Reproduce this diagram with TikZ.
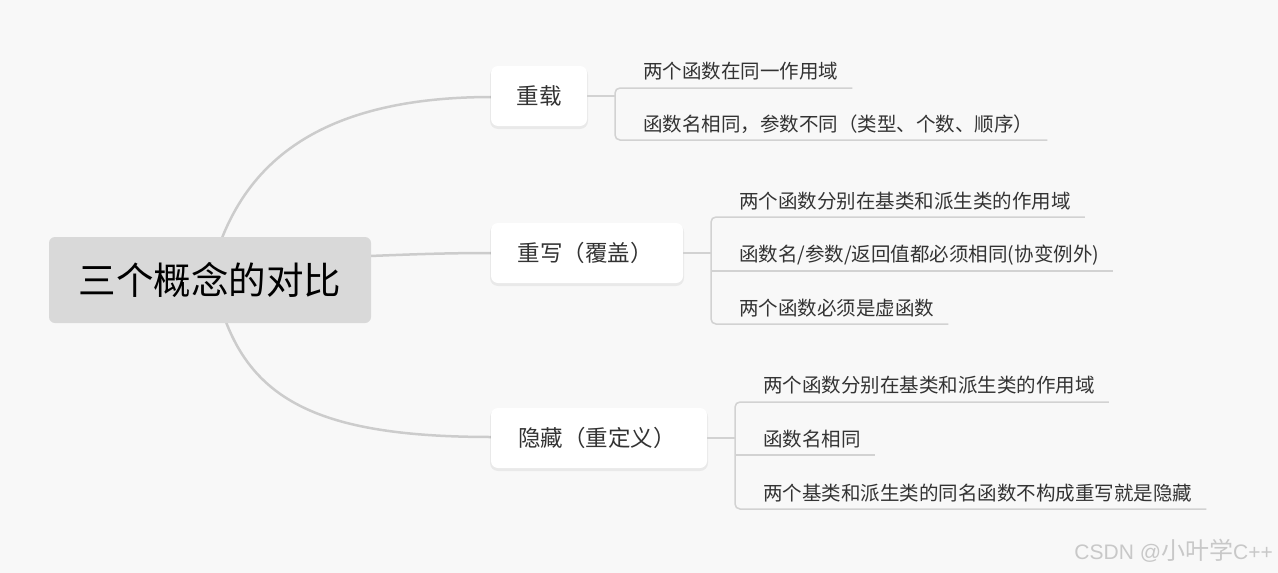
\documentclass[tikz,border=0pt]{standalone}
\usepackage{fontspec}
\setmainfont{Noto Sans CJK SC}
\newfontfamily\wmlatin{Liberation Sans}
\usetikzlibrary{calc}
\definecolor{bg}{HTML}{F8F8F8}
\definecolor{rootfill}{HTML}{D9D9D9}
\definecolor{curve}{HTML}{CCCCCC}
\definecolor{bline}{HTML}{D2D2D2}
\definecolor{txt}{HTML}{333333}
\definecolor{wm}{HTML}{C8C8C8}
\tikzset{
  rootbox/.style={fill=rootfill, rounded corners=6pt, minimum width=322pt, minimum height=86pt, inner sep=0pt, font=\fontsize{37.5}{40}\selectfont, text=black},
  branchbox/.style={fill=white, rounded corners=7pt, minimum height=60pt, inner sep=0pt, font=\fontsize{22.5}{26}\selectfont, text=txt},
  shadowbox/.style={fill=black, opacity=0.06, rounded corners=8pt, minimum height=62pt, inner sep=0pt},
  leaftext/.style={anchor=west, inner sep=0pt, font=\fontsize{19.5}{22}\selectfont, text=txt},
  curveline/.style={draw=curve, line width=2.5pt},
  leafline/.style={draw=bline, line width=1.5pt},
}
\begin{document}
\begin{tikzpicture}[x=1pt,y=-1pt]
\fill[bg] (0,0) rectangle (1278,573);
\useasboundingbox (0,0) rectangle (1278,573);

% curves (behind nodes)
\coordinate (rt) at (222,238);
\coordinate (rm) at (370,256);
\coordinate (rb) at (226,322);
\coordinate (c1in) at (492,97);
\coordinate (c2in) at (492,253);
\coordinate (c3in) at (492,437);
\draw[curveline] (rt) .. controls (255,155) and (330,97) .. (c1in);
\draw[curveline] (rm) .. controls (420,254) and (450,253) .. (c2in);
\draw[curveline] (rb) .. controls (258,405) and (330,437) .. (c3in);

% root
\node[rootbox] (root) at (210,280) {三个概念的对比};

% branch shadows
\node[shadowbox, minimum width=98pt] at (539,98) {};
\node[shadowbox, minimum width=194pt] at (587,255) {};
\node[shadowbox, minimum width=218pt] at (599,440) {};

% branches
\node[branchbox, minimum width=96pt] (c1) at (539,96) {重载};
\node[branchbox, minimum width=192pt] (c2) at (587,253) {\hspace*{-4pt}重写（覆盖）};
\node[branchbox, minimum width=216pt] (c3) at (599,438) {\hspace*{-4pt}隐藏（重定义）};

% leaves group 1
\node[leaftext] (l11) at (643,71) {两个函数在同一作用域};
\node[leaftext] (l12) at (643,124) {函数名相同，参数不同（类型、个数、顺序）};
\coordinate (b1t) at (615,88);
\coordinate (b1b) at (615,140);
\draw[leafline] (c1.east) -- (c1.east -| b1t);
\draw[leafline, rounded corners=5pt] ([xshift=14pt]l11.east |- b1t) -- (b1t) -- (b1b) -- ([xshift=14pt]l12.east |- b1b);

% leaves group 2
\node[leaftext] (l21) at (739,201) {两个函数分别在基类和派生类的作用域};
\node[leaftext] (l22) at (739,255) {函数名/参数/返回值都必须相同(协变例外)};
\node[leaftext] (l23) at (739,308) {两个函数必须是虚函数};
\coordinate (b2t) at (711,217);
\coordinate (b2m) at (711,271);
\coordinate (b2b) at (711,324);
\draw[leafline] (c2.east) -- (c2.east -| b2t);
\draw[leafline, rounded corners=5pt] ([xshift=14pt]l21.east |- b2t) -- (b2t) -- (b2b) -- ([xshift=14pt]l23.east |- b2b);
\draw[leafline] (b2m) -- ([xshift=14pt]l22.east |- b2m);

% leaves group 3
\node[leaftext] (l31) at (763,385) {两个函数分别在基类和派生类的作用域};
\node[leaftext] (l32) at (763,439) {函数名相同};
\node[leaftext] (l33) at (763,493) {两个基类和派生类的同名函数不构成重写就是隐藏};
\coordinate (b3t) at (735,402);
\coordinate (b3m) at (735,455);
\coordinate (b3b) at (735,509);
\draw[leafline] (c3.east) -- (c3.east -| b3t);
\draw[leafline, rounded corners=5pt] ([xshift=14pt]l31.east |- b3t) -- (b3t) -- (b3b) -- ([xshift=14pt]l33.east |- b3b);
\draw[leafline] (b3m) -- ([xshift=14pt]l32.east |- b3m);

% watermark
\node[anchor=east, inner sep=0pt, text=wm] (wmk) at (1273,551) {{\wmlatin\fontsize{21}{24}\selectfont CSDN @}{\fontsize{24}{25}\selectfont 小叶学}{\wmlatin\fontsize{21}{24}\selectfont C++}};
\end{tikzpicture}
\end{document}
